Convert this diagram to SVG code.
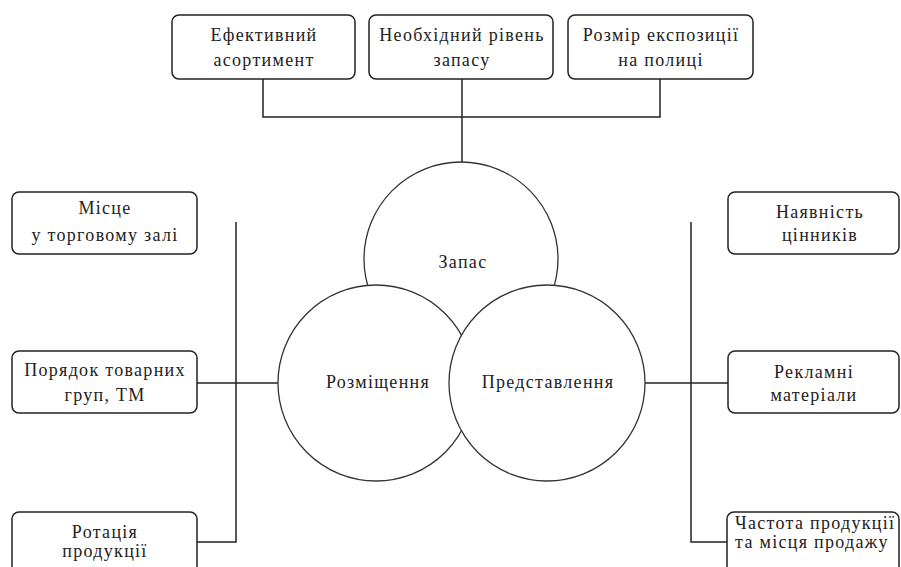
<svg xmlns="http://www.w3.org/2000/svg" width="901" height="567" viewBox="0 0 901 567">
<style>
.box{fill:#fff;stroke:#222;stroke-width:1.5}
.circ{fill:#fff;stroke:#333;stroke-width:1.3}
.ln{fill:none;stroke:#222;stroke-width:1.5}
text{font-family:"Liberation Serif","Times New Roman",serif;font-size:18px;fill:#222;letter-spacing:1.3px}
.c{text-anchor:middle}
</style>
<rect width="901" height="567" fill="#fff"/>
<g id="connectors">
<path class="ln" d="M263,79 V117 H660 V79"/>
<path class="ln" d="M462,79 V162"/>
<path class="ln" d="M236,222 V542 H197"/>
<path class="ln" d="M197,383 H278"/>
<path class="ln" d="M691,222 V542 H727"/>
<path class="ln" d="M645,383 H728"/>
</g>
<g id="zapas">
<circle class="circ" cx="461" cy="259" r="97"/>
<text class="c" x="463" y="268">Запас</text>
</g>
<g id="rozmishchennia">
<circle class="circ" cx="376" cy="383" r="98"/>
</g>
<g id="predstavlennia">
<circle class="circ" cx="547" cy="383" r="98"/>
</g>
<text class="c" x="378" y="388">Розміщення</text>
<text class="c" x="548" y="388">Представлення</text>
<g id="efektyvnyi">
<rect class="box" x="172" y="15" width="183" height="64" rx="7"/>
<text class="c" x="264" y="41">Ефективний</text>
<text class="c" x="264" y="66">асортимент</text>
</g>
<g id="neobkhidnyi">
<rect class="box" x="369" y="15" width="184" height="64" rx="7"/>
<text class="c" x="462" y="41">Необхідний рівень</text>
<text class="c" x="462" y="66">запасу</text>
</g>
<g id="rozmir">
<rect class="box" x="568" y="15" width="185" height="64" rx="7"/>
<text class="c" x="661" y="41">Розмір експозиції</text>
<text class="c" x="661" y="66">на полиці</text>
</g>
<g id="mistse">
<rect class="box" x="12" y="192" width="185" height="62" rx="7"/>
<text class="c" x="105" y="214">Місце</text>
<text class="c" x="105" y="241">у торговому залі</text>
</g>
<g id="poriadok">
<rect class="box" x="12" y="351" width="185" height="62" rx="7"/>
<text class="c" x="105" y="376">Порядок товарних</text>
<text class="c" x="105" y="401">груп, ТМ</text>
</g>
<g id="rotatsiia">
<rect class="box" x="12" y="512" width="185" height="64" rx="7"/>
<text class="c" x="105" y="538">Ротація</text>
<text class="c" x="105" y="557">продукції</text>
</g>
<g id="naiavnist">
<rect class="box" x="728" y="192" width="171" height="62" rx="7"/>
<text class="c" x="820" y="218">Наявність</text>
<text class="c" x="820" y="241">цінників</text>
</g>
<g id="reklamni">
<rect class="box" x="728" y="351" width="171" height="62" rx="7"/>
<text class="c" x="814" y="378">Рекламні</text>
<text class="c" x="814" y="401">матеріали</text>
</g>
<g id="chastota">
<rect class="box" x="727" y="512" width="172" height="64" rx="7"/>
<text x="735" y="529">Частота продукції</text>
<text x="735" y="548">та місця продажу</text>
</g>
</svg>
